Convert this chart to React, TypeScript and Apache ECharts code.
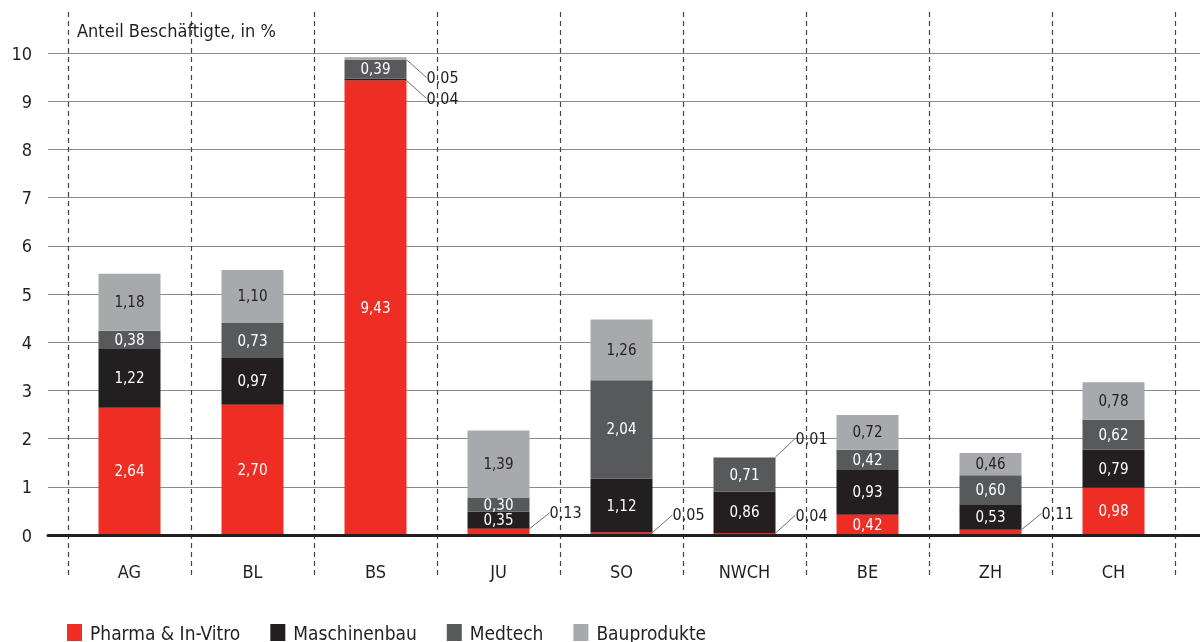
import React, { useEffect, useRef } from "react";
import * as echarts from "echarts";

const categories = ["AG", "BL", "BS", "JU", "SO", "NWCH", "BE", "ZH", "CH"];
const seriesNames = ["Pharma & In-Vitro", "Maschinenbau", "Medtech", "Bauprodukte"];
const pharma = [2.64, 2.7, 9.43, 0.13, 0.05, 0.04, 0.42, 0.11, 0.98];
const maschinenbau = [1.22, 0.97, 0.04, 0.35, 1.12, 0.86, 0.93, 0.53, 0.79];
const medtech = [0.38, 0.73, 0.39, 0.3, 2.04, 0.71, 0.42, 0.6, 0.62];
const bauprodukte = [1.18, 1.1, 0.05, 1.39, 1.26, 0.01, 0.72, 0.46, 0.78];
const yTicks = [0, 1, 2, 3, 4, 5, 6, 7, 8, 9, 10];

const FONT = "'DejaVu Sans Condensed', 'Liberation Sans Narrow', sans-serif";
const colors = ["#ee2e24", "#231f20", "#58595b", "#a7a9ac"];
const insideText = ["#ffffff", "#ffffff", "#ffffff", "#231f20"];
const allSeries = [pharma, maschinenbau, medtech, bauprodukte];

const fmt = (v: number) => v.toFixed(2).replace(".", ",");

export default function App() {
  const ref = useRef<HTMLDivElement>(null);
  useEffect(() => {
    if (!ref.current) return;
    const chart = echarts.init(ref.current, null, { renderer: "svg" });
    const totals = categories.map((_, i) => allSeries.reduce((s, a) => s + a[i], 0));

    const barSeries = allSeries.map((arr, si) => ({
      name: seriesNames[si],
      type: "bar",
      stack: "total",
      xAxisIndex: 1,
      yAxisIndex: 1,
      barWidth: 62,
      z: 3,
      itemStyle: { color: colors[si] },
      data: arr.map((v) => {
        const small = v < 0.2;
        return {
          value: v,
          label: small
            ? {
                show: true,
                position: "right",
                distance: 20,
                color: "#231f20",
                fontSize: 16,
                fontFamily: FONT,
              }
            : {
                show: true,
                position: "inside",
                color: insideText[si],
                fontSize: 15,
                fontFamily: FONT,
              },
          labelLine: small
            ? { show: true, lineStyle: { color: "#6d6e71", width: 1 } }
            : { show: false },
        };
      }),
      label: {
        show: true,
        formatter: (p: any) => fmt(p.value),
      },
      labelLayout: (p: any) => {
        const v = allSeries[p.seriesIndex]?.[p.dataIndex];
        if (v === undefined || v >= 0.2) return {};
        const down = totals[p.dataIndex] > 9;
        return { dy: down ? 19 : -19 };
      },
    }));

    chart.setOption({
      animation: false,
      color: colors,
      title: {
        text: "Anteil Beschäftigte, in %",
        left: 72,
        top: 16,
        textStyle: { fontFamily: FONT, fontSize: 18, fontWeight: "normal", color: "#231f20" },
      },
      legend: {
        data: seriesNames,
        left: 62,
        top: 618,
        icon: "rect",
        itemWidth: 15,
        itemHeight: 17,
        itemGap: 30,
        textStyle: {
          fontFamily: FONT,
          fontSize: 19,
          lineHeight: 19,
          color: "#231f20",
          padding: [0, 0, 0, 3],
        },
      },
      grid: [
        { left: 68, right: 25, top: 12, bottom: 64 },
        { left: 68, right: 25, top: 53, bottom: 107 },
        { left: 48, right: 0, top: 53, bottom: 107 },
      ],
      xAxis: [
        {
          gridIndex: 0,
          type: "category",
          data: categories,
          boundaryGap: true,
          axisLine: { show: false },
          axisTick: { show: false },
          axisLabel: { show: false },
          splitLine: {
            show: true,
            lineStyle: { color: "#444", width: 1.2, type: [5, 4] },
          },
        },
        {
          gridIndex: 1,
          type: "category",
          data: categories,
          axisLine: { show: false },
          axisTick: { show: false },
          axisLabel: {
            margin: 27,
            fontFamily: FONT,
            fontSize: 18,
            color: "#231f20",
          },
        },
        {
          gridIndex: 2,
          type: "value",
          min: 0,
          max: 1,
          z: 5,
          axisLine: { show: true, lineStyle: { color: "#231f20", width: 3 } },
          axisTick: { show: false },
          axisLabel: { show: false },
          splitLine: { show: false },
        },
      ],
      yAxis: [
        { gridIndex: 0, type: "value", min: 0, max: 1, show: false },
        { gridIndex: 1, type: "value", min: 0, max: 10, show: false },
        {
          gridIndex: 2,
          type: "value",
          min: yTicks[0],
          max: yTicks[yTicks.length - 1],
          interval: 1,
          axisLine: { show: false },
          axisTick: { show: false },
          axisLabel: {
            margin: 16,
            fontFamily: FONT,
            fontSize: 18,
            color: "#231f20",
          },
          splitLine: { show: true, lineStyle: { color: "#8a8a8a", width: 1 } },
        },
      ],
      series: barSeries,
    });
    return () => chart.dispose();
  }, []);
  return (
    <div
      ref={ref}
      style={{ position: "fixed", left: 0, top: 0, width: 1200, height: 642 }}
    />
  );
}
